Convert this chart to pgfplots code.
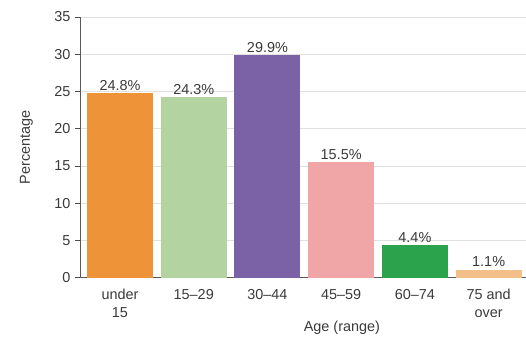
\documentclass[border=0pt]{standalone}
\usepackage{pgfplots}
\pgfplotsset{compat=1.18}
\usepackage{fontspec}
\setmainfont{Liberation Sans}
\definecolor{c1}{HTML}{EE9338}
\definecolor{c2}{HTML}{B3D3A0}
\definecolor{c3}{HTML}{7B61A6}
\definecolor{c4}{HTML}{F0A6A6}
\definecolor{c5}{HTML}{2BA24C}
\definecolor{c6}{HTML}{F4C08A}
\definecolor{txt}{HTML}{3A3A3A}
\begin{document}
\begin{tikzpicture}[x=1bp,y=1bp]
\begin{axis}[
  scale only axis,
  width=445bp, height=261bp,
  xmin=-0.53, xmax=5.5,
  ymin=0, ymax=35,
  ytick={0,5,...,35},
  xtick={0,1,2,3,4,5},
  xticklabels={under\\15,15--29,30--44,45--59,60--74,75 and\\over},
  xticklabel style={align=center, font=\fontsize{14.5}{17.5}\selectfont, text=txt},
  yticklabel style={font=\fontsize{14.5}{17.5}\selectfont, text=txt},
  /pgf/number format/assume math mode=true,
  major x tick style={draw=none},
  ytick style={draw=black!70, line width=0.8bp},
  tick align=outside,
  major tick length=6bp,
  axis x line*=bottom,
  axis y line*=left,
  axis line style={draw=black!65, line width=1bp},
  x axis line style={-},
  y axis line style={-},
  ymajorgrids,
  grid style={draw=black!12, line width=0.8bp},
  ylabel={Percentage},
  ylabel style={font=\fontsize{14.5}{17.5}\selectfont, text=txt, at={(rel axis cs:-0.10,0.5)}, anchor=south},
  xlabel={Age (range)},
  xlabel style={font=\fontsize{14.5}{17.5}\selectfont, text=txt, at={(rel axis cs:0.587,0)}, anchor=north, yshift=-40bp},
  xticklabel shift=2bp,
  yticklabel shift=1bp,
  clip=false,
  nodes near coords={\pgfmathprintnumber[fixed,precision=1,fixed zerofill]{\pgfplotspointmeta}\%},
  every node near coord/.append style={font=\fontsize{14.5}{17.5}\selectfont, text=txt, yshift=-1bp},
]
\addplot[ybar, bar width=66bp, fill=c1, draw=none] coordinates {(0,24.8)};
\addplot[ybar, bar width=66bp, fill=c2, draw=none] coordinates {(1,24.3)};
\addplot[ybar, bar width=66bp, fill=c3, draw=none] coordinates {(2,29.9)};
\addplot[ybar, bar width=66bp, fill=c4, draw=none] coordinates {(3,15.5)};
\addplot[ybar, bar width=66bp, fill=c5, draw=none] coordinates {(4,4.4)};
\addplot[ybar, bar width=66bp, fill=c6, draw=none] coordinates {(5,1.1)};
\path (rel axis cs:-0.182,1.065) (rel axis cs:1,-0.222);
\end{axis}
\end{tikzpicture}
\end{document}
